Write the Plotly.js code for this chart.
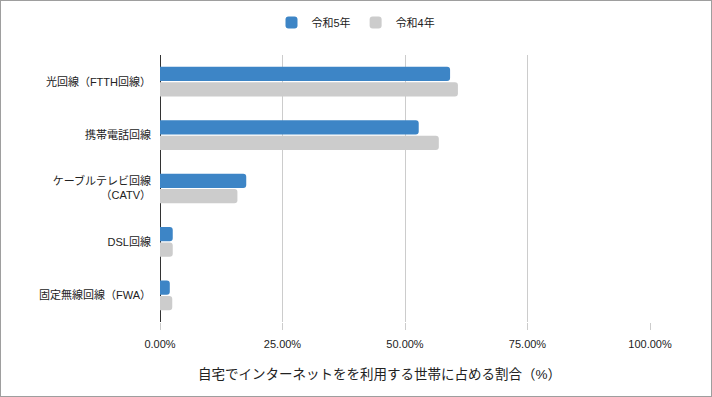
<!DOCTYPE html>
<html><head><meta charset="utf-8">
<script src="https://cdn.plot.ly/plotly-3.0.1.min.js"></script>
<style>
html,body{margin:0;padding:0;background:#fff;}
#wrap{width:710px;height:395px;border:1px solid #9e9e9e;}
#chart{width:710px;height:395px;}
</style></head>
<body><div id="wrap"><div id="chart"></div></div>
<script>
const categories = ["光回線（FTTH回線）", "携帯電話回線", "ケーブルテレビ回線<br>（CATV）", "DSL回線", "固定無線回線（FWA）"];
const seriesNames = ["令和5年", "令和4年"];
const valuesR5 = [0.592, 0.528, 0.176, 0.026, 0.020];
const valuesR4 = [0.608, 0.569, 0.158, 0.026, 0.025];
const xTicks = [0, 0.25, 0.5, 0.75, 1.0];
const xTickLabels = ["0.00%", "25.00%", "50.00%", "75.00%", "100.00%"];
const xTitle = "自宅でインターネットをを利用する世帯に占める割合（%）";

const font = "'Liberation Sans', Arial, 'Noto Sans CJK JP', sans-serif";
const data = [
  {type:'bar', orientation:'h', name:seriesNames[0], y:categories, x:valuesR5,
   marker:{color:'#3d85c6', cornerradius:3}, hoverinfo:'skip'},
  {type:'bar', orientation:'h', name:seriesNames[1], y:categories, x:valuesR4,
   marker:{color:'#cccccc', cornerradius:3}, hoverinfo:'skip'}
];
const layout = {
  width:710, height:395,
  margin:{l:159, r:61, t:54, b:74},
  paper_bgcolor:'#fff', plot_bgcolor:'#fff',
  font:{family:font, size:11, color:'#222'},
  barmode:'group', bargap:0.42, bargroupgap:0.08,
  showlegend:true,
  legend:{orientation:'h', x:0.5, xanchor:'center', xref:'container', y:0.982, yref:'container', yanchor:'top', traceorder:'normal',
          font:{size:11, color:'#222'}, itemwidth:30},
  xaxis:{range:[0,1.0], tickvals:xTicks, ticktext:xTickLabels, showgrid:true, gridcolor:'#cccccc', gridwidth:1,
         zeroline:true, zerolinecolor:'#333', zerolinewidth:1, ticks:'outside', ticklen:7, tickcolor:'#cccccc',
         ticklabelstandoff:5, tickfont:{size:11, color:'#222'}, fixedrange:true},
  yaxis:{autorange:'reversed', showgrid:false, zeroline:false, ticks:'', ticklabelstandoff:8,
         tickfont:{size:11, color:'#222'}, fixedrange:true},
  annotations:[{text:xTitle, xref:'paper', x:(378-159)/490, xanchor:'center', yref:'paper', y:-(373-321)/267, yanchor:'middle',
                showarrow:false, font:{size:13.5, color:'#222'}}]
};
Plotly.newPlot('chart', data, layout, {displayModeBar:false, staticPlot:true});
</script></body></html>
